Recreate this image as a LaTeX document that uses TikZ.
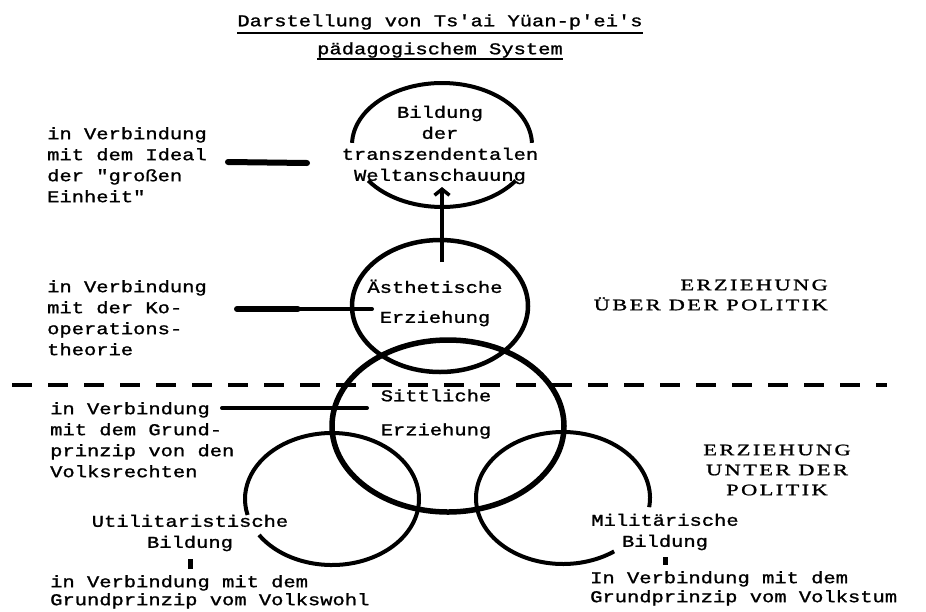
\documentclass[tikz,border=0pt]{standalone}
\usepackage{fontspec}
\usepackage{tikz}
\usetikzlibrary{calc,arrows.meta}
\newfontfamily\twfont[FakeStretch=1.24,FakeBold=1.3]{Liberation Mono}
\newfontfamily\capfont[FakeStretch=1.4,FakeBold=1.2,LetterSpace=15]{Liberation Serif}
\def\centerarc[#1](#2)(#3:#4:#5:#6){\draw[#1] ($(#2)+({#5*cos(#3)},{#6*sin(#3)})$) arc (#3:#4:#5 and #6);}
\tikzset{
	tw/.style={font=\twfont\fontsize{16.5}{21}\selectfont, inner sep=0pt},
	lefttext/.style={tw, align=left, anchor=north west},
	midtext/.style={tw, align=center},
	capstext/.style={font=\capfont\fontsize{16}{20}\selectfont, inner sep=0pt},
	ring/.style={line width=4pt},
	link/.style={line width=4pt, line cap=round},
	uline/.style={line width=2.5pt},
}

\begin{document}
\begin{tikzpicture}[x=1pt, y=1pt]
			%%%%% START %%%%%
			\useasboundingbox[fill=white] (0, 0) rectangle (926, -611);
			
			% title
			\node[midtext] (title1) at (440, -22) {Darstellung von Ts'ai Yüan-p'ei's};
			\node[midtext] (title2) at (440, -50) {pädagogischem System};
			\draw[uline] ([yshift=-3pt]title1.south west) -- ([yshift=-3pt]title1.south east);
			\draw[uline] ([yshift=-1pt]title2.south west) -- ([yshift=-1pt]title2.south east);
			
			% circles
			\centerarc[ring](442, -145)(2:178:90:62);
			\centerarc[ring](442, -145)(215:325:90:62);
			\draw[ring, line width=4.5pt] (440, -306) ellipse (88 and 66);
			\draw[ring, line width=5.5pt] (448, -426) ellipse (116 and 86);
			\centerarc[ring](332, -499)(213:554:87:66);
			\centerarc[ring](563, -498)(-8:306:87:66);
			
			% circle texts
			\node[midtext] (weltbild) at (440, -145) {Bildung\\der\\transzendentalen\\Weltanschauung};
			\node[midtext] (aesth) at (435, -303) {Ästhetische\\[9pt]Erziehung};
			\node[midtext] (sitt) at (436, -414) {Sittliche\\[13pt]Erziehung};
			\node[midtext] (util) at (190, -533) {Utilitaristische\\Bildung};
			\node[midtext] (milit) at (665, -532) {Militärische\\Bildung};
			
			% arrow
			\coordinate (aesthtop) at (442, -262);
			\coordinate (weltbottom) at (442, -187);
			\draw[line width=3.5pt, -{Straight Barb[length=6pt, width=15pt]}] (aesthtop) -- (weltbottom);
			
			% dashed border
			\draw[line width=3.5pt, dash pattern=on 20pt off 16pt] (12, -385) -- (887, -385);
			
			% left texts
			\node[lefttext] (ideal) at (47, -127) {in Verbindung\\mit dem Ideal\\der "großen\\Einheit"};
			\node[lefttext] (koop) at (47, -280) {in Verbindung\\mit der Ko-\\operations-\\theorie};
			\node[lefttext] (volksr) at (50, -402) {in Verbindung\\mit dem Grund-\\prinzip von den\\Volksrechten};
			\node[lefttext] (wohl) at (50, -575) {in Verbindung mit dem\\[-3pt]Grundprinzip vom Volkswohl};
			\node[lefttext] (tum) at (590, -571) {In Verbindung mit dem\\[-2pt]Grundprinzip vom Volkstum};
			
			% right texts
			\node[capstext, align=right, anchor=east] (ueber) at (828, -295) {ERZIEHUNG\\ÜBER DER POLITIK};
			\node[capstext, align=center] (unter) at (777, -470) {ERZIEHUNG\\UNTER DER\\POLITIK};
			
			% links
			\coordinate (ideal1) at (228, -162);
			\coordinate (ideal2) at (307, -163);
			\draw[link, line width=6pt] (ideal1) -- (ideal2);
			\coordinate (koop1) at (237, -309);
			\coordinate (koop2) at (372, -309);
			\draw[link] (koop1) -- (koop2);
			\draw[link, line width=6pt] (koop1) -- ($(koop1)!0.45!(koop2)$);
			\coordinate (volksr1) at (222, -408);
			\coordinate (volksr2) at (367, -408);
			\draw[link] (volksr1) -- (volksr2);
			\draw[link, line width=5pt, line cap=butt] ([yshift=-8pt]util.south) -- ([yshift=6pt]wohl.north -| util.south);
			\draw[link, line width=5pt, line cap=butt] ([yshift=-7pt]milit.south) -- ([yshift=6pt]tum.north -| milit.south);
			
			%%%%% END %%%%%
\end{tikzpicture}
\end{document}
